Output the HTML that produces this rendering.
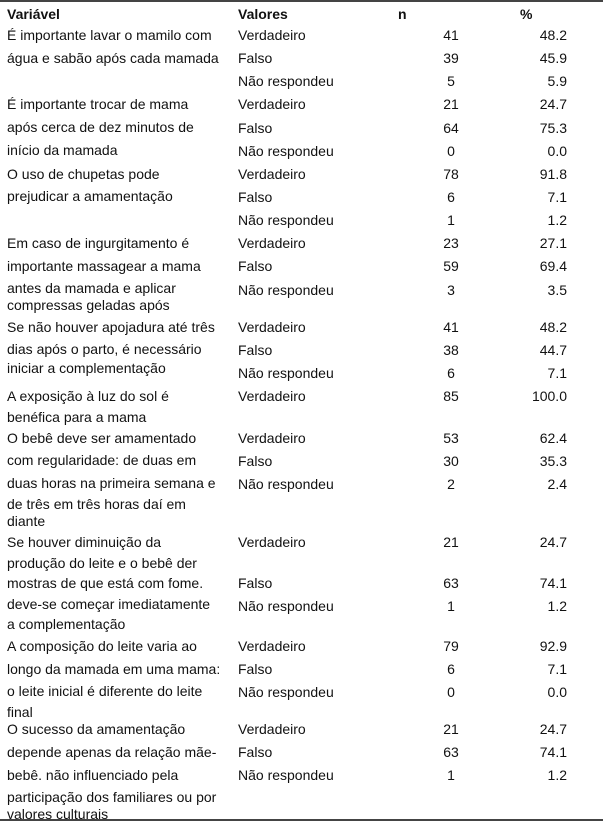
<!DOCTYPE html>
<html><head><meta charset="utf-8">
<style>
body{margin:0;width:603px;height:823px;background:#fff;position:relative;overflow:hidden;font-family:"Liberation Sans",Arial,sans-serif;font-size:14px;color:#111}
.t{position:absolute;line-height:16px;white-space:nowrap;transform:translateY(-8px)}
.h{font-weight:bold}
.n{width:40px;text-align:center;left:431px}
.p{width:80px;text-align:right;left:487px}
.rule{position:absolute;left:0;width:603px;height:2px;background:#444}
</style></head><body>
<div class="rule" style="top:0"></div>
<div class="rule" style="top:819px"></div>
<div id="tbl"></div>
<script>
const header=[["Variável",7],["Valores",238],["n",398],["%",520]];
const varLines=[
[35,"É importante lavar o mamilo com"],[58,"água e sabão após cada mamada"],
[104,"É importante trocar de mama"],[127,"após cerca de dez minutos de"],[150,"início da mamada"],
[174,"O uso de chupetas pode"],[196,"prejudicar a amamentação"],
[243,"Em caso de ingurgitamento é"],[266,"importante massagear a mama"],[288,"antes da mamada e aplicar"],[305,"compressas geladas após"],
[327,"Se não houver apojadura até três"],[349,"dias após o parto, é necessário"],[368,"iniciar a complementação"],
[396,"A exposição à luz do sol é"],[417,"benéfica para a mama"],
[438,"O bebê deve ser amamentado"],[460,"com regularidade: de duas em"],[483,"duas horas na primeira semana e"],[504,"de três em três horas daí em"],[521,"diante"],
[542,"Se houver diminuição da"],[563,"produção do leite e o bebê der"],[583,"mostras de que está com fome."],[604,"deve-se começar imediatamente"],[624,"a complementação"],
[646,"A composição do leite varia ao"],[669,"longo da mamada em uma mama:"],[691,"o leite inicial é diferente do leite"],[712,"final"],
[729,"O sucesso da amamentação"],[752,"depende apenas da relação mãe-"],[775,"bebê. não influenciado pela"],[797,"participação dos familiares ou por"],[814,"valores culturais"]];
const rowY=[35,58,81,104,128,151,174,197,220,243,266,290,327,350,373,396,438,461,484,542,583,606,646,669,692,729,752,775];
const rowVal=["Verdadeiro","Falso","Não respondeu","Verdadeiro","Falso","Não respondeu","Verdadeiro","Falso","Não respondeu","Verdadeiro","Falso","Não respondeu","Verdadeiro","Falso","Não respondeu","Verdadeiro","Verdadeiro","Falso","Não respondeu","Verdadeiro","Falso","Não respondeu","Verdadeiro","Falso","Não respondeu","Verdadeiro","Falso","Não respondeu"];
const rowN=[41,39,5,21,64,0,78,6,1,23,59,3,41,38,6,85,53,30,2,21,63,1,79,6,0,21,63,1];
const rowPct=["48.2","45.9","5.9","24.7","75.3","0.0","91.8","7.1","1.2","27.1","69.4","3.5","48.2","44.7","7.1","100.0","62.4","35.3","2.4","24.7","74.1","1.2","92.9","7.1","0.0","24.7","74.1","1.2"];
const tbl=document.getElementById('tbl');
function mk(txt,cls,x,y){const d=document.createElement('div');d.className='t '+cls;d.textContent=txt;d.style.top=y+'px';if(x!==null)d.style.left=x+'px';tbl.appendChild(d);return d;}
header.forEach(h=>{const d=mk(h[0],'h',h[1],14);

});
varLines.forEach(v=>{const d=mk(v[1],'',7,v[0]);

});
rowY.forEach((y,i)=>{
const a=mk(rowVal[i],'',238,y);


const b=mk(String(rowN[i]),'n',null,y);


const c=mk(rowPct[i],'p',null,y);


});
</script>
</body></html>
